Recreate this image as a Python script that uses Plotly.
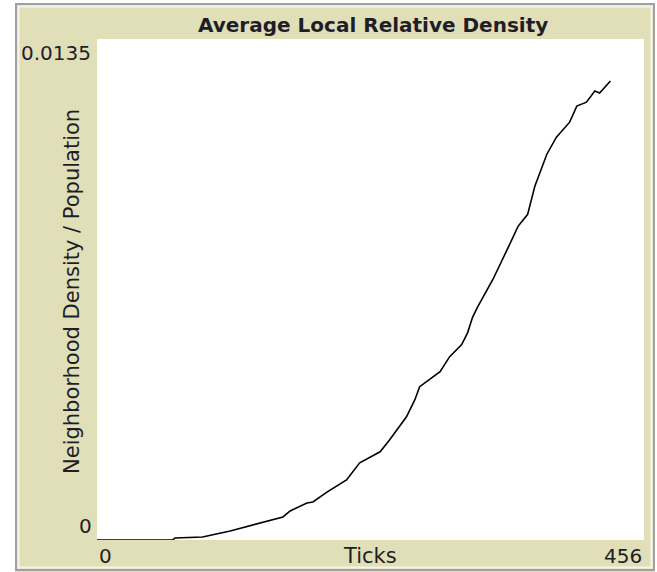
import plotly.graph_objects as go

# ---- data ----
ticks = [0, 63, 65, 88, 111, 133, 155, 161, 175, 180, 192, 208, 219, 236, 244, 258,
         265, 269, 275, 286, 294, 304, 309, 313, 317, 330, 342, 351, 359, 365, 375,
         383, 394, 400, 408, 415, 419, 424, 428]
density = [0.0, 0.0, 0.000054, 0.000081, 0.000243, 0.000432, 0.000621, 0.000783,
           0.000999, 0.001026, 0.001296, 0.00162, 0.002079, 0.002376, 0.0027, 0.003321,
           0.00378, 0.004131, 0.004266, 0.004536, 0.004941, 0.005265, 0.005589, 0.005994,
           0.006264, 0.00702, 0.00783, 0.008451, 0.008775, 0.009531, 0.010395, 0.010854,
           0.011259, 0.011691, 0.011799, 0.012096, 0.012042, 0.012231, 0.012366]
x_range = [0, 456]
y_range = [0, 0.0135]
x_tick_labels = ["0", "456"]
y_tick_labels = ["0", "0.0135"]
title = "Average Local Relative Density"
x_title = "Ticks"
y_title = "Neighborhood Density / Population"

# ---- layout geometry ----
W, H = 657, 572
L, R, T, B = 97, 13, 39, 32
PW, PH = W - L - R, H - T - B
BEIGE = "#E0DFB8"
FONT = "DejaVu Sans, sans-serif"
TXT = "#1e1e28"


def px(x):
    return (x - L) / PW


def py(y):
    return (H - B - y) / PH


fig = go.Figure()
fig.add_trace(go.Scatter(x=ticks, y=density, mode="lines",
                         line=dict(color="black", width=1.6), hoverinfo="skip"))

shapes = [
    # white outside frame
    dict(type="rect", xref="paper", yref="paper", x0=px(0), x1=px(15), y0=py(H), y1=py(0),
         fillcolor="white", line=dict(width=0), layer="below"),
    dict(type="rect", xref="paper", yref="paper", x0=px(0), x1=px(W), y0=py(3), y1=py(0),
         fillcolor="white", line=dict(width=0), layer="below"),
    dict(type="rect", xref="paper", yref="paper", x0=px(655), x1=px(W), y0=py(H), y1=py(0),
         fillcolor="white", line=dict(width=0), layer="below"),
    # frame
    dict(type="rect", xref="paper", yref="paper", x0=px(16), x1=px(654), y0=py(570), y1=py(4),
         fillcolor="rgba(0,0,0,0)", line=dict(color="#A0A0A0", width=2), layer="below"),
    dict(type="rect", xref="paper", yref="paper", x0=px(18.5), x1=px(651.5), y0=py(567.5), y1=py(6.5),
         fillcolor="rgba(0,0,0,0)", line=dict(color="#F4F4EA", width=2), layer="below"),
]

annotations = [
    dict(text="<b>" + title + "</b>", xref="paper", yref="paper", x=px(373), y=py(25),
         xanchor="center", yanchor="middle", showarrow=False,
         font=dict(size=20, color=TXT, family=FONT)),
    dict(text=y_tick_labels[1], xref="paper", yref="y", x=px(93), y=y_range[1],
         xanchor="right", yanchor="top", showarrow=False,
         font=dict(size=20, color=TXT, family=FONT)),
    dict(text=y_tick_labels[0], xref="paper", yref="y", x=px(94), y=y_range[0],
         xanchor="right", yanchor="bottom", showarrow=False,
         font=dict(size=20, color=TXT, family=FONT)),
    dict(text=x_tick_labels[0], xref="x", yref="paper", x=x_range[0], y=py(542),
         xanchor="left", yanchor="top", showarrow=False,
         font=dict(size=20, color=TXT, family=FONT)),
    dict(text=x_tick_labels[1], xref="x", yref="paper", x=x_range[1], y=py(542),
         xanchor="right", yanchor="top", showarrow=False,
         font=dict(size=20, color=TXT, family=FONT)),
    dict(text=x_title, xref="paper", yref="paper", x=px(370), y=py(542),
         xanchor="center", yanchor="top", showarrow=False,
         font=dict(size=21, color=TXT, family=FONT)),
    dict(text=y_title, xref="paper", yref="paper", x=px(72), y=py(292),
         xanchor="center", yanchor="middle", textangle=-90, showarrow=False,
         font=dict(size=21, color=TXT, family=FONT)),
]

fig.update_layout(
    width=W, height=H,
    margin=dict(l=L, r=R, t=T, b=B, pad=0),
    paper_bgcolor=BEIGE, plot_bgcolor="white",
    showlegend=False,
    shapes=shapes, annotations=annotations,
    xaxis=dict(range=x_range, showgrid=False, zeroline=False, showticklabels=False,
               ticks="", showline=False, fixedrange=True),
    yaxis=dict(range=y_range, showgrid=False, zeroline=False, showticklabels=False,
               ticks="", showline=False, fixedrange=True),
)

fig.write_html("out.html", config={"displayModeBar": False},
               post_script="document.body.style.margin='0';document.body.style.padding='0';")
